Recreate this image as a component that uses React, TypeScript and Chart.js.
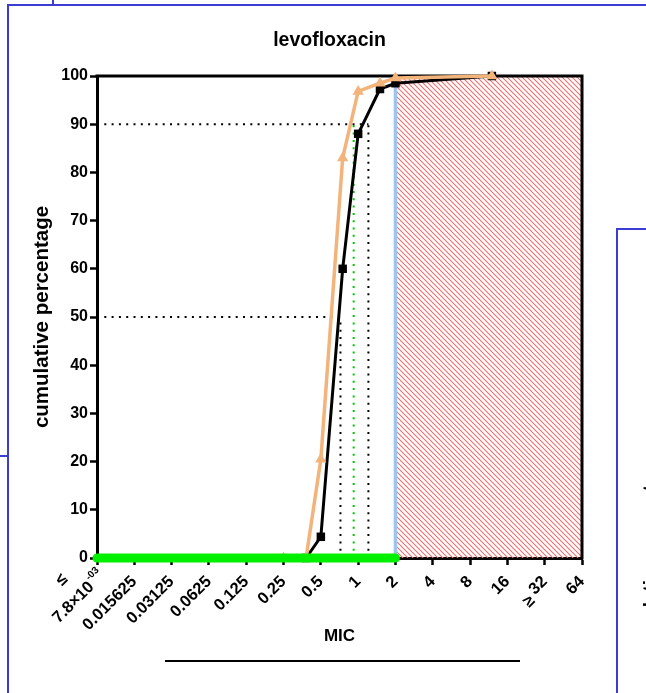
import React, { useEffect, useRef } from 'react';
import { Chart, registerables } from 'chart.js';

Chart.register(...registerables);

const FONT = '"Liberation Sans", Arial, Helvetica, sans-serif';

// MIC dilution steps on the x axis (mg/L)
const micTicks = [0.0078125, 0.015625, 0.03125, 0.0625, 0.125, 0.25, 0.5, 1, 2, 4, 8, 16, 32, 64];
const micTickText = ['7.8×10', '0.015625', '0.03125', '0.0625', '0.125', '0.25', '0.5', '1', '2', '4', '8', '16', '32', '64'];
const micTickSup = ['-03', '', '', '', '', '', '', '', '', '', '', '', '', ''];
const micTickPrefix = ['≤', '', '', '', '', '', '', '', '', '', '', '', '≥', ''];

const yTickStep = 10;

// cumulative distributions
const blackMic = [0.38, 0.5, 0.75, 1, 1.5, 2, 12];
const blackCum = [0, 4.4, 60, 88, 97.3, 98.5, 100];
const orangeMic = [0.25, 0.38, 0.5, 0.75, 1, 1.5, 2, 12];
const orangeCum = [0, 0, 20.5, 83, 96.8, 98.5, 99.6, 100];

// reference markers
const breakpoint = 2;
const resistantMax = 64;
const blackMic50 = 0.72;
const blackMic90 = 1.21;
const orangeMic90 = 0.92;
const micMin = 0.0078125;

const pts = (xs: number[], ys: number[]) => xs.map((x, i) => ({ x, y: ys[i] }));

function makeHatch(): CanvasPattern | string {
  const c = document.createElement('canvas');
  const s = 5;
  c.width = s;
  c.height = s;
  const g = c.getContext('2d');
  if (!g) return '#f7a0a0';
  g.strokeStyle = '#f07070';
  g.lineWidth = 1.1;
  g.beginPath();
  g.moveTo(-1, -1);
  g.lineTo(s + 1, s + 1);
  g.moveTo(-1, s - 1);
  g.lineTo(1, s + 1);
  g.moveTo(s - 1, -1);
  g.lineTo(s + 1, 1);
  g.stroke();
  const ctx = document.createElement('canvas').getContext('2d');
  return (ctx && ctx.createPattern(c, 'repeat')) || '#f7a0a0';
}

export default function App() {
  const ref = useRef<HTMLCanvasElement>(null);

  useEffect(() => {
    if (!ref.current) return;
    const hatch = makeHatch();

    const backdrop = {
      id: 'backdrop',
      beforeDatasetsDraw(chart: any) {
        const { ctx, chartArea } = chart;
        const xs = chart.scales.x;
        const ys = chart.scales.y;
        ctx.save();
        // resistant zone
        const x1 = xs.getPixelForValue(breakpoint);
        const x2 = xs.getPixelForValue(resistantMax);
        const y1 = ys.getPixelForValue(100);
        const y2 = ys.getPixelForValue(0);
        ctx.fillStyle = hatch;
        ctx.fillRect(x1, y1, x2 - x1, y2 - y1);
        // top and right frame
        ctx.strokeStyle = '#000';
        ctx.lineWidth = 3;
        ctx.beginPath();
        ctx.moveTo(chartArea.left - 1.5, chartArea.top);
        ctx.lineTo(chartArea.right, chartArea.top);
        ctx.lineTo(chartArea.right, chartArea.bottom + 1.5);
        ctx.stroke();
        ctx.restore();
      },
    };

    const micLabels = {
      id: 'micLabels',
      afterDraw(chart: any) {
        const { ctx, chartArea } = chart;
        const xs = chart.scales.x;
        const mainFont = `bold 16.5px ${FONT}`;
        const supFont = `bold 10px ${FONT}`;
        ctx.save();
        ctx.fillStyle = '#000';
        micTicks.forEach((v, i) => {
          const px = xs.getPixelForValue(v);
          ctx.save();
          ctx.translate(px, chartArea.bottom + 21);
          ctx.rotate(-Math.PI / 4);
          ctx.textBaseline = 'middle';
          ctx.font = mainFont;
          const main = micTickText[i];
          const wMain = ctx.measureText(main).width;
          const sup = micTickSup[i];
          ctx.font = supFont;
          const wSup = sup ? ctx.measureText(sup).width + 1 : 0;
          // a superscript runs a little past the tick
          const end = wSup * 0.5;
          const total = wMain + wSup;
          ctx.textAlign = 'left';
          ctx.font = mainFont;
          ctx.fillText(main, end - total, 0);
          if (sup) {
            ctx.font = supFont;
            ctx.fillText(sup, end - wSup + 1, -7);
          }
          const pre = micTickPrefix[i];
          if (pre === '≤') {
            ctx.font = mainFont;
            ctx.textAlign = 'center';
            ctx.fillText(pre, end - total * 0.5, -24);
          } else if (pre === '≥') {
            ctx.font = mainFont;
            ctx.textAlign = 'right';
            ctx.fillText(pre, -total - 4, 5);
          }
          ctx.restore();
        });
        ctx.restore();
      },
    };

    const titlePlugin = {
      id: 'panelTitle',
      afterDraw(chart: any) {
        const { ctx, chartArea } = chart;
        ctx.save();
        ctx.fillStyle = '#000';
        ctx.font = `bold 19.5px ${FONT}`;
        ctx.textAlign = 'center';
        ctx.textBaseline = 'middle';
        ctx.fillText('levofloxacin', (chartArea.left + chartArea.right) / 2 - 10, chartArea.top - 35);
        ctx.restore();
      },
    };

    const dotted = { borderWidth: 2, borderDash: [2, 5.3], pointRadius: 0, tension: 0, clip: false as const };

    const chart = new Chart(ref.current, {
      type: 'line',
      data: {
        datasets: [
          {
            label: 'green',
            data: [{ x: micMin, y: 0 }, { x: breakpoint, y: 0 }],
            borderColor: '#00f000',
            borderWidth: 9,
            borderCapStyle: 'round',
            pointRadius: 0,
            order: 0,
            clip: false,
          },
          {
            label: 'orange',
            data: pts(orangeMic, orangeCum),
            borderColor: '#f3b47c',
            backgroundColor: '#f3b47c',
            borderWidth: 3.5,
            pointStyle: 'triangle',
            pointRadius: 6.5,
            pointBorderWidth: 0,
            tension: 0,
            order: 1,
            clip: false,
          },
          {
            label: 'black',
            data: pts(blackMic, blackCum),
            borderColor: '#000',
            backgroundColor: '#000',
            borderWidth: 3,
            pointStyle: 'rect',
            pointRadius: 6,
            pointBorderWidth: 0,
            tension: 0,
            order: 2,
            clip: false,
          },
          {
            label: 'breakpoint',
            data: [{ x: breakpoint, y: 0 }, { x: breakpoint, y: 100 }],
            borderColor: '#9ec4f0',
            borderWidth: 3.5,
            pointRadius: 0,
            order: 3,
            clip: false,
          },
          { label: 'h90', data: [{ x: micMin, y: 90 }, { x: blackMic90, y: 90 }], borderColor: '#000', order: 4, ...dotted },
          { label: 'v90', data: [{ x: blackMic90, y: 0 }, { x: blackMic90, y: 90 }], borderColor: '#000', order: 4, ...dotted },
          { label: 'h50', data: [{ x: micMin, y: 50 }, { x: blackMic50, y: 50 }], borderColor: '#000', order: 4, ...dotted },
          { label: 'v50', data: [{ x: blackMic50, y: 0 }, { x: blackMic50, y: 50 }], borderColor: '#000', order: 4, ...dotted },
          { label: 'g90', data: [{ x: orangeMic90, y: 0 }, { x: orangeMic90, y: 90 }], borderColor: '#00c800', order: 4, ...dotted },
        ] as any,
      },
      options: {
        responsive: false,
        animation: false,
        devicePixelRatio: 1,
        layout: { padding: { top: 76, right: 64, left: 0, bottom: 0 } },
        plugins: {
          legend: { display: false },
          tooltip: { enabled: false },
          title: { display: false },
        },
        scales: {
          x: {
            type: 'logarithmic',
            min: micMin,
            max: 64,
            afterBuildTicks: (s: any) => {
              s.ticks = micTicks.map((value) => ({ value }));
            },
            afterFit: (s: any) => {
              s.height = 135;
            },
            ticks: { display: false, autoSkip: false },
            grid: { drawOnChartArea: false, drawTicks: true, tickLength: 7, tickWidth: 2.5, tickColor: '#000' },
            border: { display: true, width: 3, color: '#000' },
            title: {
              display: true,
              text: 'MIC',
              color: '#000',
              font: { family: FONT, size: 17, weight: 'bold' },
              padding: { top: 0, bottom: 46 },
            },
          },
          y: {
            min: 0,
            max: 100,
            afterFit: (s: any) => {
              s.width = 97;
            },
            ticks: {
              stepSize: yTickStep,
              color: '#000',
              padding: 2,
              font: { family: FONT, size: 16, weight: 'bold' },
            },
            grid: { drawOnChartArea: false, drawTicks: true, tickLength: 7, tickWidth: 2.5, tickColor: '#000' },
            border: { display: true, width: 3, color: '#000' },
            title: {
              display: true,
              text: 'cumulative percentage',
              color: '#000',
              font: { family: FONT, size: 20.5, weight: 'bold' },
              padding: { top: 30, bottom: 0 },
            },
          },
        },
      } as any,
      plugins: [backdrop, micLabels, titlePlugin],
    });
    return () => chart.destroy();
  }, []);

  const blue = '#3c3cd2';
  const line = (l: number, t: number, w: number, h: number, c: string) => (
    <div style={{ position: 'absolute', left: l, top: t, width: w, height: h, background: c }} />
  );

  return (
    <div style={{ position: 'absolute', left: 0, top: 0, width: 646, height: 693, background: '#fff', overflow: 'hidden' }}>
      <canvas ref={ref} width={646} height={693} style={{ position: 'absolute', left: 0, top: 0 }} />
      {line(7, 4, 639, 2, blue)}
      {line(7, 4, 2, 689, blue)}
      {line(52, 0, 2, 5, blue)}
      {line(0, 455, 8, 2, blue)}
      {line(616, 228, 2, 465, blue)}
      {line(616, 228, 30, 2, blue)}
      {line(165, 660, 355, 2, '#000')}
      {/* axis title of the neighbouring panel, cut by the right edge */}
      <div
        style={{
          position: 'absolute',
          left: 639,
          top: 658,
          transform: 'rotate(-90deg)',
          transformOrigin: '0 0',
          whiteSpace: 'nowrap',
          font: `bold 19px ${FONT}`,
          lineHeight: 'normal',
          color: '#000',
        }}
      >
        cumulative percentage
      </div>
    </div>
  );
}
